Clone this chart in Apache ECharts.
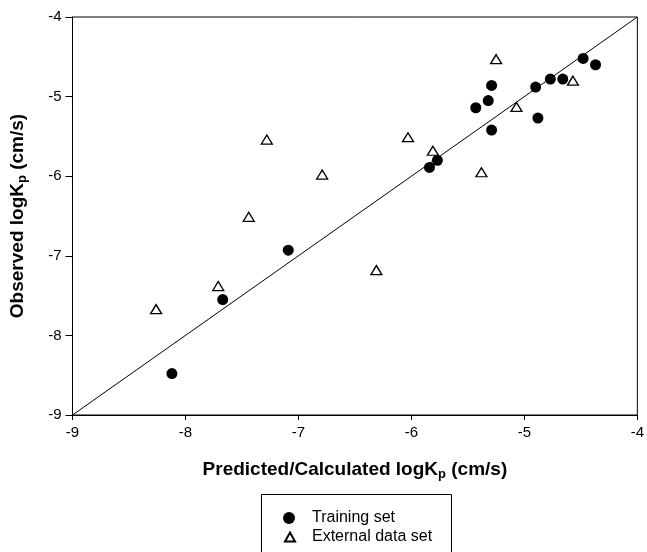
<!DOCTYPE html>
<html>
<head>
<meta charset="utf-8">
<script src="https://cdn.jsdelivr.net/npm/echarts@6/dist/echarts.min.js"></script>
<style>
  html, body { margin: 0; padding: 0; background: #fff; }
  #chart { width: 647px; height: 552px; }
</style>
</head>
<body>
<div id="chart"></div>
<script>
// predicted/calculated logKp vs observed logKp
const trainingX = [-4.48, -4.37, -4.77, -4.66, -4.90, -5.29, -5.32, -5.43, -5.29, -4.88, -5.77, -5.84, -7.09, -7.67, -8.12];
const trainingY = [-4.52, -4.60, -4.78, -4.78, -4.88, -4.86, -5.05, -5.14, -5.42, -5.27, -5.80, -5.89, -6.93, -7.55, -8.48];
const externalX = [-5.25, -4.57, -5.07, -6.03, -5.81, -5.38, -7.28, -6.79, -7.44, -7.71, -8.26, -6.31];
const externalY = [-4.53, -4.80, -5.13, -5.51, -5.68, -5.95, -5.54, -5.98, -6.51, -7.38, -7.67, -7.18];
const identityLine = [-9, -4];
const axisTicks = [-9, -8, -7, -6, -5, -4];

const chart = echarts.init(document.getElementById("chart"));

const font = "Liberation Sans, Arial, sans-serif";
const nameRich = {
  sub: { fontSize: 13, fontWeight: "bold", fontFamily: font, padding: [9, 0, 0, 0] },
};
const legendText = { fontSize: 16, lineHeight: 16, color: "#000", fontFamily: font };

const option = {
  animation: false,
  textStyle: { fontFamily: font, color: "#000" },
  grid: {
    left: 72,
    right: 9,
    top: 17,
    bottom: 137,
    show: true,
    borderColor: "#000",
    borderWidth: 1,
  },
  // legend frame
  graphic: [
    {
      type: "rect",
      shape: { x: 261.5, y: 494.5, width: 190, height: 70 },
      style: { fill: "none", stroke: "#000", lineWidth: 1 },
    },
  ],
  legend: [
    {
      left: 283,
      top: 510,
      padding: 0,
      itemWidth: 12,
      itemHeight: 12,
      textStyle: Object.assign({}, legendText, { padding: [0, 0, 0, 12] }),
      data: ["Training set"],
    },
    {
      left: 284,
      top: 529,
      padding: 0,
      itemWidth: 10,
      itemHeight: 9,
      textStyle: Object.assign({}, legendText, { padding: [0, 0, 0, 12] }),
      data: ["External data set"],
    },
  ],
  xAxis: {
    type: "value",
    min: axisTicks[0],
    max: axisTicks[axisTicks.length - 1],
    interval: 1,
    name: "Predicted/Calculated logK{sub|p} (cm/s)",
    nameLocation: "middle",
    nameGap: 44,
    nameTextStyle: { fontSize: 19, fontWeight: "bold", color: "#000", fontFamily: font, rich: nameRich },
    axisLine: { lineStyle: { color: "#000", width: 1 } },
    axisTick: { show: true, length: 5, lineStyle: { color: "#000" } },
    axisLabel: { fontSize: 15, color: "#000", margin: 10, fontFamily: font },
    splitLine: { show: false },
  },
  yAxis: {
    type: "value",
    min: axisTicks[0],
    max: axisTicks[axisTicks.length - 1],
    interval: 1,
    name: "Observed logK{sub|p} (cm/s)",
    nameLocation: "middle",
    nameGap: 44,
    nameTextStyle: { fontSize: 19, fontWeight: "bold", color: "#000", fontFamily: font, rich: nameRich },
    axisLine: { show: true, lineStyle: { color: "#000", width: 1 } },
    axisTick: { show: true, length: 7, lineStyle: { color: "#000" } },
    axisLabel: { fontSize: 15, color: "#000", margin: 11, fontFamily: font },
    splitLine: { show: false },
  },
  series: [
    {
      name: "identity",
      type: "line",
      data: identityLine.map((v) => [v, v]),
      symbol: "none",
      lineStyle: { color: "#000", width: 1 },
      silent: true,
      z: 1,
    },
    {
      name: "Training set",
      type: "scatter",
      data: trainingX.map((x, i) => [x, trainingY[i]]),
      symbol: "circle",
      symbolSize: 11,
      itemStyle: { color: "#000", opacity: 1 },
      z: 3,
    },
    {
      name: "External data set",
      type: "scatter",
      data: externalX.map((x, i) => [x, externalY[i]]),
      symbol: "triangle",
      symbolSize: [11, 9],
      itemStyle: { color: "#fff", borderColor: "#000", borderWidth: 1.3, opacity: 1 },
      z: 2,
    },
  ],
};

chart.setOption(option);
</script>
</body>
</html>
